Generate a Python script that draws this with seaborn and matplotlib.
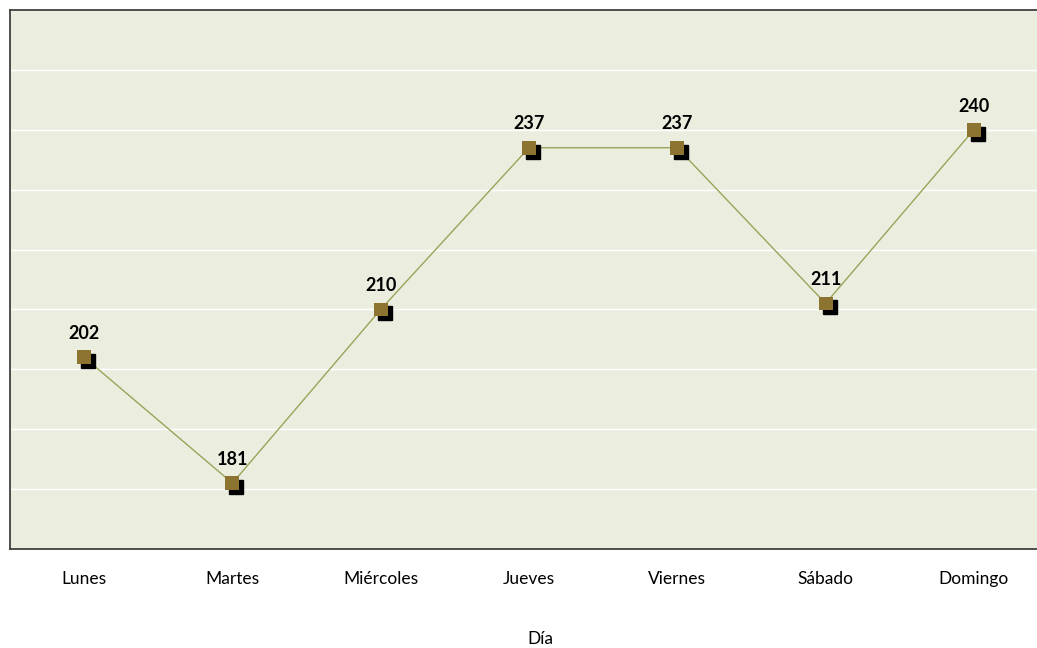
import numpy as np
import pandas as pd
import seaborn as sns
import matplotlib.pyplot as plt
from matplotlib.transforms import offset_copy

# data
dias = ["Lunes", "Martes", "Miércoles", "Jueves", "Viernes", "Sábado", "Domingo"]
valores = [202, 181, 210, 237, 237, 211, 240]

df = pd.DataFrame({"Día": dias, "Valor": valores})
df["pos"] = np.arange(len(dias))

sns.set_style("white")
plt.rcParams["font.family"] = ["Lato", "DejaVu Sans"]
plt.rcParams["text.color"] = "black"
plt.rcParams["xtick.color"] = "black"
plt.rcParams["axes.labelcolor"] = "black"

fig = plt.figure(figsize=(10.37, 6.48), dpi=100)
ax = fig.add_axes([10 / 1037, 99 / 648, 1038 / 1037, 539 / 648])
ax.set_facecolor("#EBEEDF")

# connecting line
sns.lineplot(data=df, x="pos", y="Valor", ax=ax, color="#9AA35A",
             linewidth=1, zorder=2, sort=False)

# marker shadow
shadow = offset_copy(ax.transData, fig=fig, x=4, y=-4, units="dots")
ax.plot(df["pos"], df["Valor"], linestyle="none", marker="s", markersize=10,
        color="black", transform=shadow, zorder=3)

# markers
sns.scatterplot(data=df, x="pos", y="Valor", ax=ax, marker="s", s=100,
                color="#8C7430", edgecolor="none", zorder=4)

# value labels
for x, v in zip(df["pos"], df["Valor"]):
    ax.annotate(f"{v}", (x, v), xytext=(0, 11), textcoords="offset points",
                ha="center", va="bottom", fontsize=13, fontweight="bold")

ax.set_xlim(-0.5, 6.5)
ax.set_ylim(170, 260)
ax.set_yticks(np.arange(180, 260, 10))
ax.set_yticklabels([])
ax.tick_params(axis="y", length=0)
ax.grid(axis="y", color="white", linewidth=1)
ax.set_axisbelow(True)

ax.set_xticks(df["pos"])
ax.set_xticklabels(dias, fontsize=12.5)
ax.tick_params(axis="x", length=0, pad=16)
ax.set_xlabel("Día", fontsize=12.5)
ax.xaxis.set_label_coords(0.511, -0.152)
ax.set_ylabel("")

for side in ["left", "top", "bottom"]:
    ax.spines[side].set_color("#404040")
    ax.spines[side].set_linewidth(1.3)
ax.spines["right"].set_visible(False)

fig.savefig("out.png", dpi=100, facecolor="white")
